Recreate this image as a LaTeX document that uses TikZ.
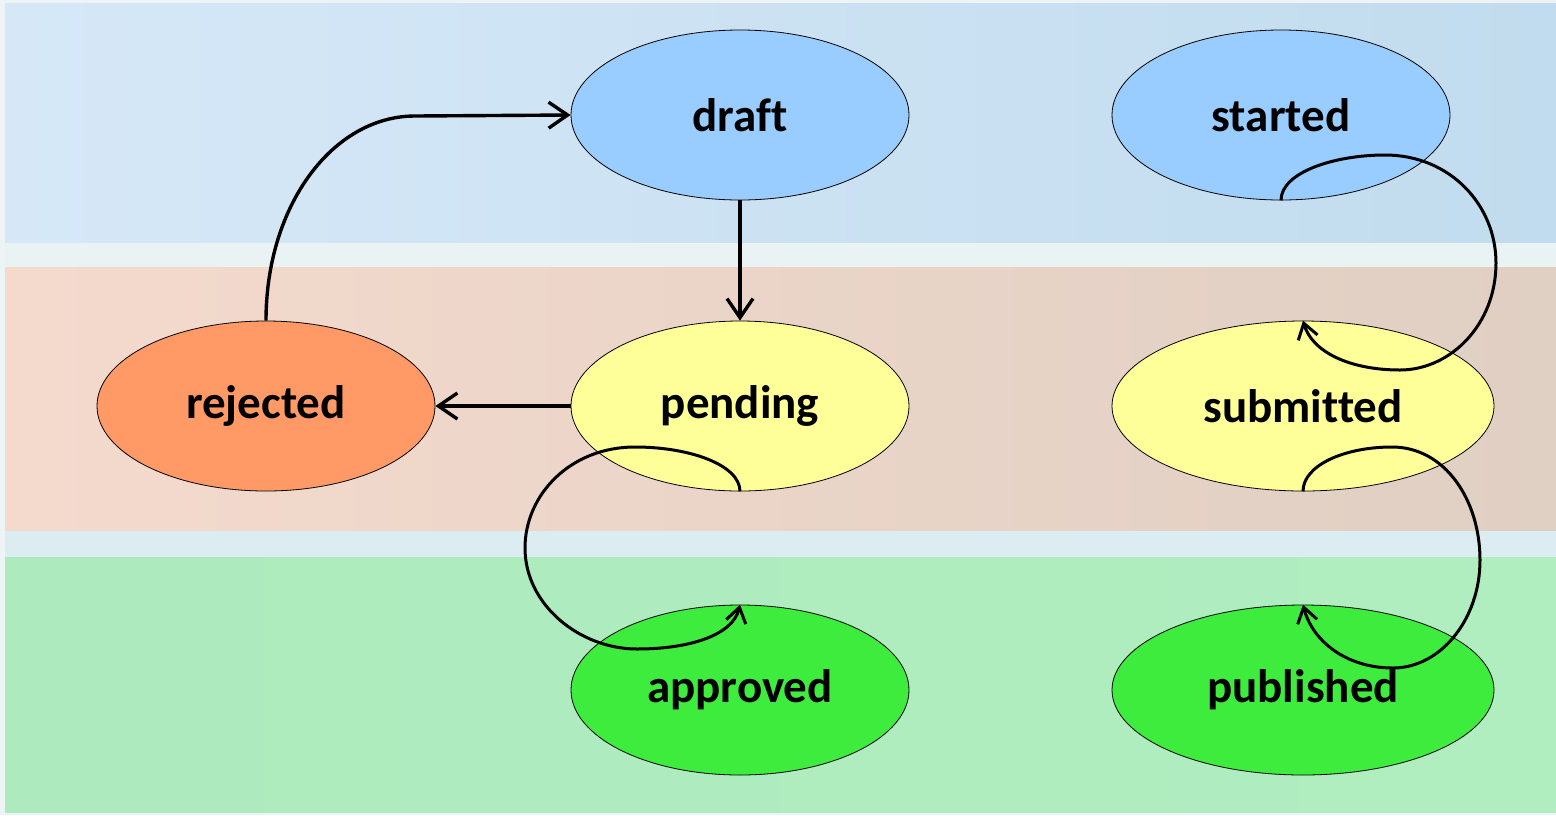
\documentclass[tikz,border=0pt]{standalone}
\usepackage{fontspec}
\setmainfont{Carlito}[Ligatures=NoCommon]
\usetikzlibrary{shapes.geometric,arrows.meta}
\definecolor{bgpale}{HTML}{EEF4F6}
\definecolor{gapA}{HTML}{EAF3F4}
\definecolor{gapB}{HTML}{DCEDF1}
\definecolor{topL}{HTML}{D6E8F8}
\definecolor{topR}{HTML}{C1DCEE}
\definecolor{midL}{HTML}{F4DACD}
\definecolor{midR}{HTML}{E0CFC3}
\definecolor{botL}{HTML}{ADEBBE}
\definecolor{botR}{HTML}{B0EEC0}
\definecolor{cblue}{HTML}{99CCFF}
\definecolor{corange}{HTML}{FF9966}
\definecolor{cyellow}{HTML}{FFFF99}
\definecolor{cgreen}{HTML}{3DEC3D}
\tikzset{
  state/.style={ellipse, draw=black, line width=0.8pt, inner sep=0pt,
    minimum width=338pt, minimum height=170pt,
    font=\fontsize{47}{47}\selectfont\bfseries, text=black},
  widestate/.style={state, minimum width=382pt},
  conn/.style={line width=3.4pt, -{Straight Barb[length=19pt,width=26pt,line width=3.4pt]}},
  loopconn/.style={line width=3pt, -{Straight Barb[length=15pt,width=20pt,line width=3pt]}},
}
\begin{document}
\begin{tikzpicture}[x=1pt,y=-1pt]
\useasboundingbox (0,0) rectangle (1556,815);
\fill[bgpale] (0,0) rectangle (1556,815);
\fill[gapA] (5,242) rectangle (1556,267);
\fill[gapB] (5,530) rectangle (1556,557);
\shade[left color=topL, right color=topR] (5,3) rectangle (1556,242);
\shade[left color=midL, right color=midR] (5,267) rectangle (1556,530);
\shade[left color=botL, right color=botR] (5,557) rectangle (1556,812);

\node[state, fill=cblue] (draft) at (740,115) {draft};
\node[state, fill=cblue] (started) at (1281,115) {started};
\node[state, fill=corange] (rejected) at (266,406) {rejected};
\node[state, fill=cyellow] (pending) at (740,406) {pending};
\node[widestate, fill=cyellow] (submitted) at (1303,406) {submitted};
\node[state, fill=cgreen] (approved) at (740,690) {approved};
\node[widestate, fill=cgreen] (published) at (1303,690) {published};

\draw[conn] (rejected.north) .. controls (266,205) and (333,116) .. (415,116) -- (draft.west);
\draw[conn] (draft.south) -- (pending.north);
\draw[conn] (pending.west) -- (rejected.east);

\draw[loopconn] (pending.south) .. controls (740,465) and (690,447) .. (635,447)
  .. controls (570,447) and (525,495) .. (525,548)
  .. controls (525,605) and (580,649) .. (637,649)
  .. controls (690,649) and (733,635) .. (approved.north);
\draw[loopconn] (started.south) .. controls (1281,172) and (1335,155) .. (1385,155)
  .. controls (1450,155) and (1496,205) .. (1496,263)
  .. controls (1496,325) and (1450,370) .. (1400,370)
  .. controls (1350,370) and (1312,352) .. (submitted.north);
\draw[loopconn] (submitted.south) .. controls (1303,465) and (1345,447) .. (1392,447)
  .. controls (1445,447) and (1480,500) .. (1480,560)
  .. controls (1480,620) and (1440,668) .. (1393,668)
  .. controls (1345,668) and (1312,640) .. (published.north);
\end{tikzpicture}
\end{document}
